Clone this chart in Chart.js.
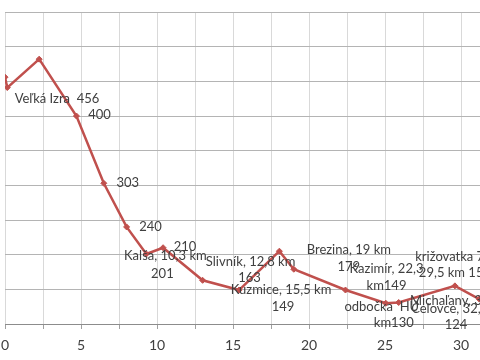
<!DOCTYPE html>
<html>
<head>
<meta charset="utf-8">
<script src="https://cdn.jsdelivr.net/npm/chart.js@4/dist/chart.umd.min.js"></script>
<style>
  html, body { margin: 0; padding: 0; background: #ffffff; overflow: hidden; }
  #wrap { width: 480px; height: 360px; }
</style>
</head>
<body>
<div id="wrap"><canvas id="c" width="480" height="360"></canvas></div>
<script>
// ---- data (km along route, elevation in m) ----
const km        = [0, 0.15, 2.25, 4.7, 6.5, 8.0, 9.3, 10.4, 13.0, 15.4, 18.05, 19.0, 22.4, 25.05, 25.9, 29.6, 31.2, 32.5];
const elevation = [456, 441, 482, 400, 303, 240, 201, 210, 163, 149, 205, 179, 149, 130, 131, 155, 136, 124];
const xTicks    = [0, 2.5, 5, 7.5, 10, 12.5, 15, 17.5, 20, 22.5, 25, 27.5, 30];
const yTicks    = [100, 150, 200, 250, 300, 350, 400, 450, 500, 550];
// data label text per point (lines as wrapped in the original)
const labelLines = [
  ['Veľká Izra  456'], [], [], ['400'], ['303'], ['240'],
  ['Kalša, 10,3 km', '201'], ['210'],
  ['Slivník, 12,8 km', '163'], ['Kuzmice, 15,5 km', '149'], [],
  ['Brezina, 19 km', '179'], ['Kazimír, 22,3', 'km149'], ['odbočka  HU', 'km130'], [],
  ['križovatka 79,', '29,5 km 155'], ['Michaľany, 31,2 km'], ['Čeľovce, 32,5 km', '124']
];

// ---- label placement (style: offsets in px from each point) ----
const labelOffsets = [
  [[52, 22]], [], [], [[23, -1]], [[24, 0]], [[24, 0]],
  [[19, 2], [16, 20]], [[22, -1]],
  [[48, -19], [47, -3]], [[42, 0], [44, 17]], [],
  [[55, -19], [55, -2]], [[41, -21], [41, -4]], [[-4, 4], [8, 20]], [],
  [[0, -29], [0, -13]], [[-14, 2]], [[-39, 1], [-43, 17]]
];

const points = km.map((k, i) => ({ x: k, y: elevation[i] }));

const labelPlugin = {
  id: 'pointLabels',
  afterDatasetsDraw(chart) {
    const ctx = chart.ctx;
    const meta = chart.getDatasetMeta(0);
    ctx.save();
    ctx.font = '13px Lato, "Liberation Sans", sans-serif';
    ctx.fillStyle = '#404040';
    ctx.textAlign = 'center';
    ctx.textBaseline = 'middle';
    meta.data.forEach((el, i) => {
      const lines = labelLines[i] || [];
      lines.forEach((t, j) => {
        const off = labelOffsets[i][j];
        ctx.fillText(t, el.x + off[0], el.y + off[1]);
      });
    });
    ctx.restore();
  }
};

new Chart(document.getElementById('c'), {
  type: 'line',
  data: {
    datasets: [{
      data: points,
      borderColor: '#C0504D',
      backgroundColor: '#C0504D',
      borderWidth: 2.5,
      pointStyle: 'rectRot',
      pointRadius: 3,
      pointBorderWidth: 1,
      tension: 0,
      fill: false
    }]
  },
  options: {
    responsive: false,
    animation: false,
    events: [],
    layout: { autoPadding: false, padding: { left: 5, right: 0, top: 12, bottom: 0 } },
    plugins: { legend: { display: false }, tooltip: { enabled: false } },
    scales: {
      x: {
        type: 'linear',
        min: 0,
        max: 31.25,
        afterBuildTicks: (s) => { s.ticks = xTicks.map(v => ({ value: v })); },
        afterFit: (s) => { s.paddingLeft = 0; s.paddingRight = 0; s.height = 36; },
        grid: { color: '#d9d9d9', lineWidth: 1, tickLength: 5, drawTicks: true, tickColor: '#a0a0a0' },
        border: { display: true, color: '#8c8c8c', width: 1 },
        ticks: {
          autoSkip: false,
          maxRotation: 0,
          padding: 8,
          color: '#404040',
          font: { family: 'Lato, "Liberation Sans", sans-serif', size: 14 },
          callback: (v) => (v % 5 === 0 ? String(v) : '')
        }
      },
      y: {
        type: 'linear',
        min: 100,
        max: 550,
        afterBuildTicks: (s) => { s.ticks = yTicks.map(v => ({ value: v })); },
        afterFit: (s) => { s.paddingTop = 0; s.paddingBottom = 0; s.width = 0; },
        grid: { color: '#b4b4b4', lineWidth: 1, drawTicks: false },
        border: { display: false },
        ticks: { display: false }
      }
    }
  },
  plugins: [labelPlugin]
});
</script>
</body>
</html>
